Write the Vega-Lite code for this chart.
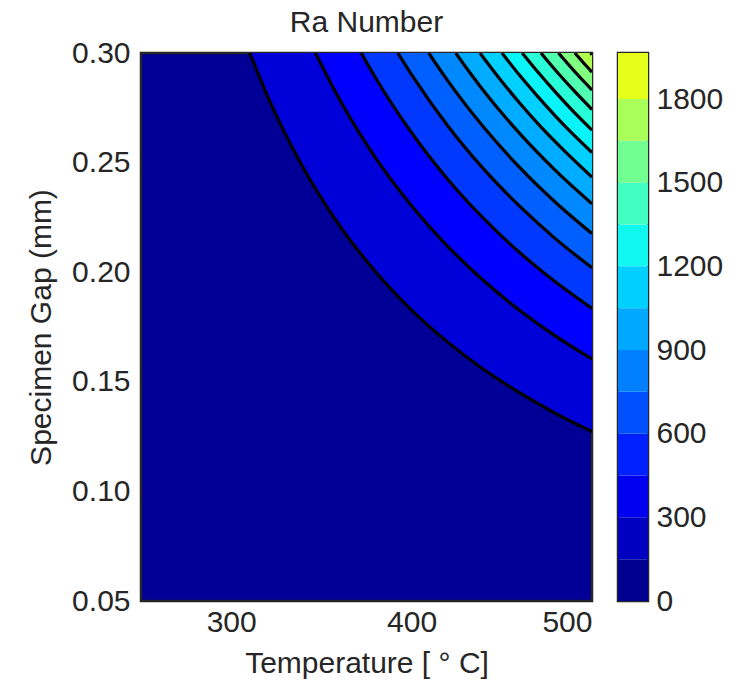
{
  "$schema": "https://vega.github.io/schema/vega-lite/v6.json",
  "autosize": {"type": "pad"},
  "padding": {"left": 25, "top": 6, "right": 5, "bottom": 2},
  "background": "white",
  "config": {
    "font": "Liberation Sans",
    "axis": {"labelFontSize": 30, "titleFontSize": 30, "labelColor": "#262626", "titleColor": "#262626", "titleFontWeight": "normal", "ticks": false, "domain": false, "grid": false},
    "title": {"fontSize": 30, "fontWeight": "normal", "color": "#262626"},
    "concat": {"spacing": 22}
  },
  "datasets": {
    "curves": [
      {"level": 150, "T": 310.3, "d": 0.30}, {"level": 150, "T": 320, "d": 0.2806}, {"level": 150, "T": 340, "d": 0.2475}, {"level": 150, "T": 360, "d": 0.2213}, {"level": 150, "T": 380, "d": 0.2002}, {"level": 150, "T": 400, "d": 0.1827}, {"level": 150, "T": 420, "d": 0.1681}, {"level": 150, "T": 440, "d": 0.1556}, {"level": 150, "T": 460, "d": 0.1449}, {"level": 150, "T": 480, "d": 0.1355}, {"level": 150, "T": 500, "d": 0.1273},
      {"level": 300, "T": 346.7, "d": 0.30}, {"level": 300, "T": 360, "d": 0.2789}, {"level": 300, "T": 380, "d": 0.2522}, {"level": 300, "T": 400, "d": 0.2303}, {"level": 300, "T": 420, "d": 0.2118}, {"level": 300, "T": 440, "d": 0.1961}, {"level": 300, "T": 460, "d": 0.1825}, {"level": 300, "T": 480, "d": 0.1707}, {"level": 300, "T": 500, "d": 0.1604},
      {"level": 450, "T": 372.1, "d": 0.30}, {"level": 450, "T": 380, "d": 0.2887}, {"level": 450, "T": 400, "d": 0.2636}, {"level": 450, "T": 420, "d": 0.2424}, {"level": 450, "T": 440, "d": 0.2244}, {"level": 450, "T": 460, "d": 0.2089}, {"level": 450, "T": 480, "d": 0.1954}, {"level": 450, "T": 500, "d": 0.1835},
      {"level": 600, "T": 392.4, "d": 0.30}, {"level": 600, "T": 400, "d": 0.2901}, {"level": 600, "T": 420, "d": 0.2668}, {"level": 600, "T": 440, "d": 0.2470}, {"level": 600, "T": 460, "d": 0.2300}, {"level": 600, "T": 480, "d": 0.2151}, {"level": 600, "T": 500, "d": 0.2020},
      {"level": 750, "T": 409.5, "d": 0.30}, {"level": 750, "T": 420, "d": 0.2874}, {"level": 750, "T": 440, "d": 0.2661}, {"level": 750, "T": 460, "d": 0.2477}, {"level": 750, "T": 480, "d": 0.2317}, {"level": 750, "T": 500, "d": 0.2176},
      {"level": 900, "T": 424.5, "d": 0.30}, {"level": 900, "T": 430, "d": 0.2936}, {"level": 900, "T": 440, "d": 0.2827}, {"level": 900, "T": 460, "d": 0.2632}, {"level": 900, "T": 480, "d": 0.2462}, {"level": 900, "T": 500, "d": 0.2312},
      {"level": 1050, "T": 437.9, "d": 0.30}, {"level": 1050, "T": 450, "d": 0.2870}, {"level": 1050, "T": 460, "d": 0.2771}, {"level": 1050, "T": 470, "d": 0.2678}, {"level": 1050, "T": 480, "d": 0.2592}, {"level": 1050, "T": 490, "d": 0.2511}, {"level": 1050, "T": 500, "d": 0.2434},
      {"level": 1200, "T": 450.1, "d": 0.30}, {"level": 1200, "T": 460, "d": 0.2897}, {"level": 1200, "T": 470, "d": 0.2801}, {"level": 1200, "T": 480, "d": 0.2710}, {"level": 1200, "T": 490, "d": 0.2625}, {"level": 1200, "T": 500, "d": 0.2546},
      {"level": 1350, "T": 461.3, "d": 0.30}, {"level": 1350, "T": 470, "d": 0.2913}, {"level": 1350, "T": 480, "d": 0.2819}, {"level": 1350, "T": 490, "d": 0.2730}, {"level": 1350, "T": 500, "d": 0.2648},
      {"level": 1500, "T": 471.7, "d": 0.30}, {"level": 1500, "T": 480, "d": 0.2919}, {"level": 1500, "T": 490, "d": 0.2828}, {"level": 1500, "T": 500, "d": 0.2742},
      {"level": 1650, "T": 481.4, "d": 0.30}, {"level": 1650, "T": 490, "d": 0.2919}, {"level": 1650, "T": 500, "d": 0.2831},
      {"level": 1800, "T": 490.5, "d": 0.30}, {"level": 1800, "T": 495, "d": 0.2958}, {"level": 1800, "T": 500, "d": 0.2913},
      {"level": 1950, "T": 499.2, "d": 0.30}, {"level": 1950, "T": 500, "d": 0.2992}
    ],
    "bands": [
      {"band": 0, "lo": 0, "hi": 150}, {"band": 150, "lo": 150, "hi": 300}, {"band": 300, "lo": 300, "hi": 450},
      {"band": 450, "lo": 450, "hi": 600}, {"band": 600, "lo": 600, "hi": 750}, {"band": 750, "lo": 750, "hi": 900},
      {"band": 900, "lo": 900, "hi": 1050}, {"band": 1050, "lo": 1050, "hi": 1200}, {"band": 1200, "lo": 1200, "hi": 1350},
      {"band": 1350, "lo": 1350, "hi": 1500}, {"band": 1500, "lo": 1500, "hi": 1650}, {"band": 1650, "lo": 1650, "hi": 1800},
      {"band": 1800, "lo": 1800, "hi": 1965}
    ]
  },
  "resolve": {"scale": {"color": "independent"}},
  "hconcat": [
    {
      "width": 451,
      "height": 548,
      "title": {"text": "Ra Number", "offset": 0},
      "view": {"fill": "#000096", "stroke": "#262626", "strokeWidth": 2.5},
      "data": {"name": "curves"},
      "encoding": {
        "x": {"field": "T", "type": "quantitative", "scale": {"domain": [250, 500], "nice": false, "zero": false},
              "axis": {"values": [300, 400, 500], "title": "Temperature [ ° C]", "labelPadding": 6, "titlePadding": 11}},
        "y": {"field": "d", "type": "quantitative", "stack": null, "scale": {"domain": [0.05, 0.30], "nice": false, "zero": false},
              "axis": {"values": [0.05, 0.1, 0.15, 0.2, 0.25, 0.3], "format": ".2f", "title": "Specimen Gap (mm)", "labelPadding": 11, "titlePadding": 15}}
      },
      "layer": [
        {
          "mark": {"type": "area", "interpolate": "monotone", "clip": true},
          "encoding": {
            "y2": {"datum": 0.30},
            "color": {"field": "level", "type": "ordinal",
                      "scale": {"domain": [150, 300, 450, 600, 750, 900, 1050, 1200, 1350, 1500, 1650, 1800, 1950],
                                "range": ["#0000d8", "#0000ff", "#0038ff", "#0060ff", "#0088ff", "#00acff", "#00d0ff", "#08f4f8", "#28ffd8", "#50ffb0", "#80ff80", "#b0ff50", "#e0ff20"]},
                      "legend": null}
          }
        },
        {
          "mark": {"type": "line", "interpolate": "monotone", "color": "black", "strokeWidth": 3.2, "clip": true},
          "encoding": {"detail": {"field": "level", "type": "ordinal"}}
        }
      ]
    },
    {
      "width": 30,
      "height": 548,
      "view": {"stroke": "#262626", "strokeWidth": 2.5},
      "data": {"name": "bands"},
      "mark": {"type": "rect"},
      "encoding": {
        "y": {"field": "lo", "type": "quantitative", "scale": {"domain": [0, 1965], "nice": false, "zero": false},
              "axis": {"orient": "right", "values": [0, 300, 600, 900, 1200, 1500, 1800], "format": "d", "title": null, "labelPadding": 8}},
        "y2": {"field": "hi"},
        "color": {"field": "band", "type": "ordinal",
                  "scale": {"domain": [0, 150, 300, 450, 600, 750, 900, 1050, 1200, 1350, 1500, 1650, 1800],
                            "range": ["#000090", "#0000c0", "#0000f0", "#0020ff", "#0050ff", "#0080ff", "#00a8ff", "#00d0ff", "#10f8f0", "#40ffc0", "#70ff90", "#a8ff58", "#e6ff1a"]},
                  "legend": null}
      }
    }
  ]
}
